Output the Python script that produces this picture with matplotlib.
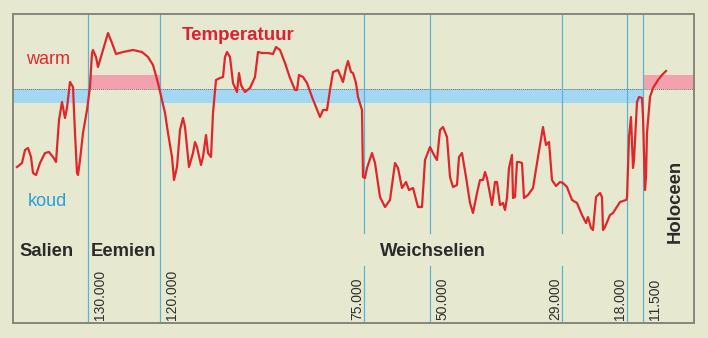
import matplotlib
matplotlib.use("Agg")
import matplotlib.pyplot as plt
import matplotlib.transforms as mtransforms

plt.rcParams['font.family'] = ['Liberation Sans', 'DejaVu Sans']

# schematic time axis (not linear in years), temperature index (0 = today's level)
curve_x = [17, 22, 25, 28, 31, 33, 36, 40, 45, 49, 53, 56, 59, 62, 65, 67, 70, 73, 75, 77,
           78, 80, 83, 87, 90, 92, 93, 96, 98, 103, 108, 112, 116, 123, 133, 142, 148, 153,
           158, 162, 165, 168, 172, 174, 177, 180, 183, 185, 187, 189, 193, 195, 197, 201,
           203, 206, 208, 211, 213, 216, 220, 223, 225, 227, 230, 233, 237, 239, 241, 245,
           250, 255, 258, 262, 268, 273, 276, 280, 285, 290, 295, 297, 299, 303, 307, 312,
           320, 323, 327, 330, 333, 338, 343, 346, 348, 351, 353, 356, 358, 362, 363, 365,
           367, 372, 375, 380, 385, 390, 395, 398, 402, 406, 409, 413, 418, 422, 425, 430,
           434, 437, 440, 443, 447, 450, 453, 457, 459, 462, 466, 470, 473, 477, 480, 483,
           485, 487, 492, 495, 497, 500, 503, 505, 507, 509, 512, 513, 515, 517, 519, 522,
           524, 528, 533, 538, 543, 546, 549, 552, 556, 560, 563, 567, 572, 577, 582, 586,
           588, 591, 593, 596, 600, 602, 603, 605, 610, 613, 620, 626, 627, 629, 631, 633,
           634, 637, 639, 642, 643, 645, 646, 647, 650, 653, 658, 662, 666]
curve_py = [167, 163, 150, 148, 157, 173, 175, 163, 153, 152, 157, 162, 120, 102, 118, 108, 82, 87, 133, 173,
            175, 160, 133, 110, 87, 53, 50, 57, 67, 50, 33, 43, 54, 52, 50, 52, 57, 65,
            83, 100, 113, 133, 157, 180, 167, 130, 118, 127, 147, 167, 153, 142, 147, 165,
            157, 135, 153, 157, 113, 80, 78, 77, 57, 52, 57, 83, 92, 73, 85, 92,
            88, 77, 52, 53, 53, 54, 47, 50, 63, 78, 90, 90, 75, 77, 83, 97,
            117, 110, 110, 90, 72, 70, 82, 68, 61, 72, 73, 83, 97, 110, 177, 178,
            168, 153, 163, 197, 207, 200, 163, 168, 188, 182, 190, 188, 207, 207, 160, 147,
            155, 160, 130, 127, 137, 177, 187, 185, 157, 153, 177, 203, 213, 193, 180, 180,
            172, 178, 205, 182, 182, 205, 203, 210, 198, 168, 155, 198, 197, 162, 162, 163,
            198, 195, 188, 157, 127, 145, 142, 180, 186, 182, 183, 187, 200, 203, 215, 223,
            217, 228, 230, 197, 193, 197, 230, 227, 215, 213, 202, 200, 198, 137, 117, 168,
            160, 102, 97, 98, 117, 190, 177, 133, 97, 88, 80, 75, 71]
temp = [89 - v for v in curve_py]

boundaries = [88, 160, 364, 430, 562, 627, 643]
tick_labels = ['130.000', '120.000', '75.000', '50.000', '29.000', '18.000', '11.500']
label_side = ['right', 'right', 'left', 'right', 'left', 'left', 'right']
gapped = ['75.000', '50.000', '29.000']

periods = ['Salien', 'Eemien', 'Weichselien']
period_x = [46.5, 123, 433]

bg = '#e6e9cf'
red = '#e0262b'

fig = plt.figure(figsize=(7.08, 3.38), dpi=100)
fig.patch.set_facecolor(bg)
W, H = 708, 338
ax = fig.add_axes([13 / W, (H - 323) / H, 681 / W, 309 / H])
ax.set_facecolor(bg)
ax.set_xlim(13, 694)
ax.set_ylim(89 - 323, 89 - 14)
ax.set_xticks([])
ax.set_yticks([])
for s in ax.spines.values():
    s.set_color('#86867a')
    s.set_linewidth(1.4)

# warm / cold bands around today's level
ax.fill_between([13, boundaries[0]], -14, 0, color='#a4d7f3', lw=0)
ax.fill_between([boundaries[1], boundaries[6]], -14, 0, color='#a4d7f3', lw=0)
ax.fill_between([boundaries[0], boundaries[1]], 0, 14, color='#f2a1ad', lw=0)
ax.fill_between([boundaries[6], 694], 0, 14, color='#f2a1ad', lw=0)
ax.axhline(0, color='#6a6a6a', lw=0.7, ls=(0, (1, 1)))

trans = mtransforms.blended_transform_factory(ax.transData, ax.transAxes)
gap_lo, gap_hi = (323 - 266) / 309, (323 - 233) / 309
for bx, lab, side in zip(boundaries, tick_labels, label_side):
    if lab in gapped:
        ax.plot([bx, bx], [0, gap_lo], transform=trans, color='#5bb5d2', lw=0.9)
        ax.plot([bx, bx], [gap_hi, 1], transform=trans, color='#5bb5d2', lw=0.9)
    else:
        ax.plot([bx, bx], [0, 1], transform=trans, color='#5bb5d2', lw=0.9)
    dx = 12 if side == 'right' else -7
    ax.text(bx + dx, 0.01, lab, transform=trans, rotation=90, ha='center', va='bottom',
            fontsize=10, color='#303030')

ax.plot(curve_x, temp, color=red, lw=1.6, solid_joinstyle='round')

ax.text(238.5, 89 - 35, 'Temperatuur', ha='center', va='center', fontsize=13.5,
        fontweight='bold', color='#d9232e')
ax.text(48, 89 - 59, 'warm', ha='center', va='center', fontsize=13, color='#e02a2a')
ax.text(47, 89 - 202, 'koud', ha='center', va='center', fontsize=13, color='#2a9fd6')
for name, px in zip(periods, period_x):
    ax.text(px, 89 - 251, name, ha='center', va='center', fontsize=13.3,
            fontweight='bold', color='#2b2b2b')
ax.text(675, 89 - 201, 'Holoceen', ha='center', va='center', rotation=90, fontsize=13.3,
        fontweight='bold', color='#2b2b2b')

fig.savefig('out.png', dpi=100, facecolor=bg)
